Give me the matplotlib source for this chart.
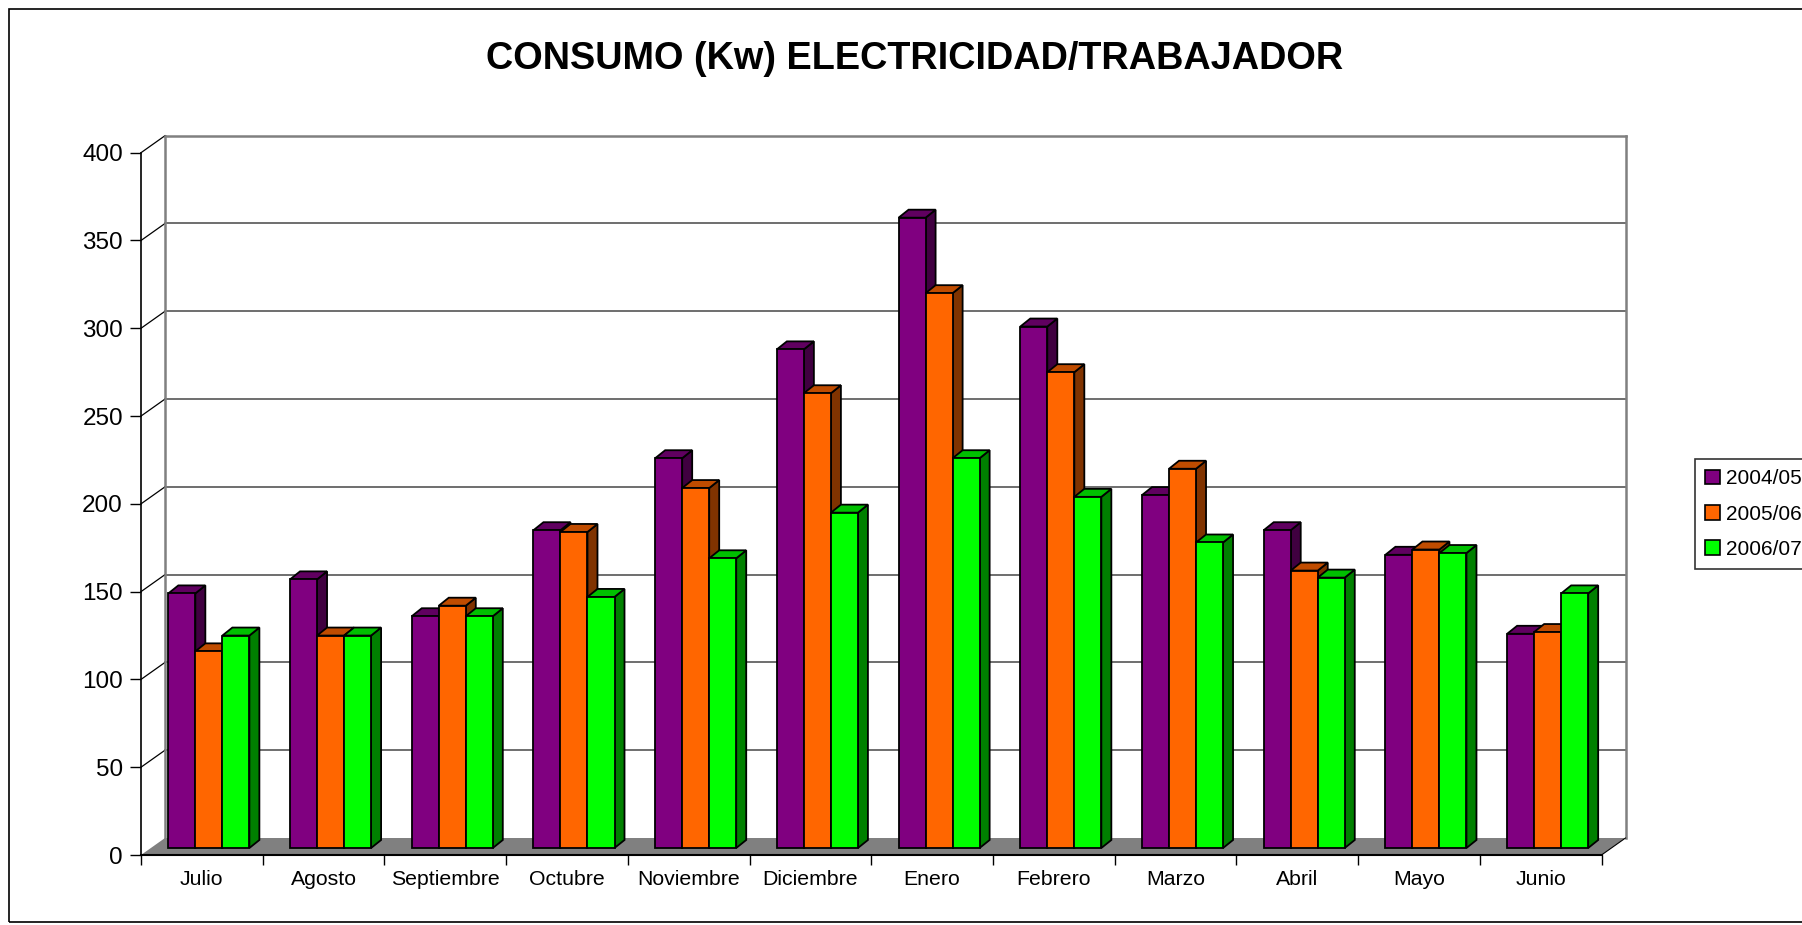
import matplotlib.pyplot as plt
import numpy as np
from matplotlib.patches import Polygon, Patch, Rectangle

plt.rcParams['font.family'] = ['Liberation Sans', 'DejaVu Sans']

# datos
meses = ["Julio", "Agosto", "Septiembre", "Octubre", "Noviembre", "Diciembre",
         "Enero", "Febrero", "Marzo", "Abril", "Mayo", "Junio"]
series = ["2004/05", "2005/06", "2006/07"]
c2004 = [145, 153, 132, 181, 222, 284, 359, 297, 201, 181, 167, 122]
c2005 = [112, 121, 138, 180, 205, 259, 316, 271, 216, 158, 170, 123]
c2006 = [121, 121, 132, 143, 165, 191, 222, 200, 174, 154, 168, 145]
valores = [c2004, c2005, c2006]

# colores: frente, lado, tapa
frente = ["#800080", "#FF6600", "#00FF00"]
lado = ["#400040", "#803300", "#008000"]
tapa = ["#600060", "#C04C00", "#00C000"]

W, H = 1802, 925
fig = plt.figure(figsize=(W / 100, H / 100), dpi=100)

# eje frontal (en pixeles)
x0, x1 = 141, 1601.5
y0, y400 = 855, 152.7
ax = fig.add_axes([x0 / W, 1 - y0 / H, (x1 - x0) / W, (y0 - y400) / H])
ax.set_xlim(0, 12)
ax.set_ylim(0, 400)

px_x = (x1 - x0) / 12.0
px_y = (y0 - y400) / 400.0


def dx(p):
    return p / px_x


def dy(p):
    return p / px_y


# profundidad de la pared (pixeles)
DX, DY = dx(24), dy(17)
# plano frontal de las barras y profundidad de barras
FX, FY = dx(7), dy(7)
BX, BY = dx(10), dy(8)

# suelo
ax.add_patch(Polygon([(0, 0), (12, 0), (12 + DX, DY), (DX, DY)], closed=True,
                     facecolor="#808080", edgecolor="none", zorder=1, clip_on=False))
ax.plot([12, 12 + DX], [0, DY], color="black", lw=0.8, zorder=2, clip_on=False)

# pared del fondo y rejilla
ticks_y = np.arange(0, 401, 50)
for v in ticks_y[1:]:
    col = "#808080" if v == 400 else "#555555"
    lw = 1.8 if v == 400 else 1.2
    ax.plot([DX, 12 + DX], [v + DY, v + DY], color=col, lw=lw, zorder=1, clip_on=False)
    ax.plot([0, DX], [v, v + DY], color="black", lw=0.9, zorder=1, clip_on=False)
ax.plot([DX, DX], [DY, 400 + DY], color="#808080", lw=1.8, zorder=1, clip_on=False)
ax.plot([12 + DX, 12 + DX], [DY, 400 + DY], color="#808080", lw=1.8, zorder=1, clip_on=False)

# barras
w = 0.222
g0 = (1 - 3 * w) / 2
z = 3
for i in range(len(meses)):
    for j in range(3):
        v = valores[j][i]
        xb = i + g0 + j * w + FX
        yb = FY
        ax.add_patch(Polygon([(xb + w, yb), (xb + w, yb + v), (xb + w + BX, yb + v + BY),
                              (xb + w + BX, yb + BY)], closed=True, facecolor=lado[j],
                             edgecolor="black", lw=1.3, zorder=z, clip_on=False))
        ax.add_patch(Polygon([(xb, yb + v), (xb + w, yb + v), (xb + w + BX, yb + v + BY),
                              (xb + BX, yb + v + BY)], closed=True, facecolor=tapa[j],
                             edgecolor="black", lw=1.3, zorder=z, clip_on=False))
        ax.bar(xb, v, width=w, bottom=yb, align="edge", color=frente[j],
               edgecolor="black", lw=1.3, zorder=z + 0.5, clip_on=False)
        z += 1

# ejes
for s in ["top", "right"]:
    ax.spines[s].set_visible(False)
ax.spines["left"].set_color("black")
ax.spines["bottom"].set_color("black")
ax.spines["left"].set_linewidth(1.2)
ax.spines["bottom"].set_linewidth(1.5)
ax.spines["left"].set_zorder(50)
ax.spines["bottom"].set_zorder(50)

ax.set_yticks(ticks_y)
ax.set_yticklabels([str(t) for t in ticks_y], fontsize=17.5)
ax.tick_params(axis="y", length=8, width=1, pad=5, color="black")

ax.set_xticks(np.arange(0, 13))
ax.set_xticklabels([])
ax.set_xticks(np.arange(12) + 0.5, minor=True)
ax.set_xticklabels(meses, minor=True, fontsize=15.3)
ax.tick_params(axis="x", which="major", length=7.5, width=1, color="black")
ax.tick_params(axis="x", which="minor", length=0, pad=11)
ax.set_facecolor("none")

# titulo
fig.text(915 / W, 1 - 59 / H, "CONSUMO (Kw) ELECTRICIDAD/TRABAJADOR",
         ha="center", va="center", fontsize=27.3, fontweight="bold")

# leyenda
handles = [Patch(facecolor=frente[j], edgecolor="black", lw=1.2) for j in range(3)]
leg = fig.legend(handles, series, loc="upper left",
                 bbox_to_anchor=(1695 / W, 1 - 459 / H), fontsize=15,
                 frameon=True, fancybox=False, edgecolor="black",
                 handlelength=0.68, handleheight=0.68, handletextpad=0.3,
                 labelspacing=0.78, borderpad=0.5, borderaxespad=0)
leg.get_frame().set_linewidth(1.2)

# borde del area del grafico
fig.patches.append(Rectangle((9 / W, 1 - 922 / H), (W + 20) / W, (922 - 9) / H,
                             transform=fig.transFigure, fill=False,
                             edgecolor="black", lw=1.2))

fig.savefig("out.png", dpi=100)
